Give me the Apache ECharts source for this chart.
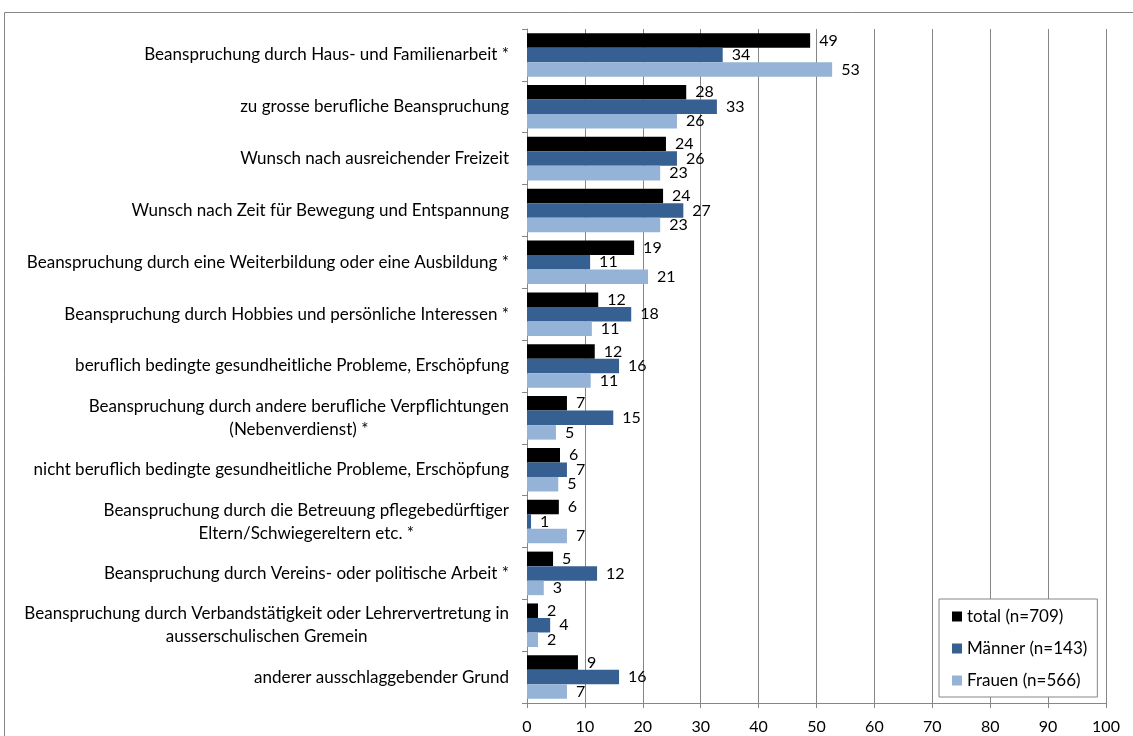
<!DOCTYPE html>
<html>
<head>
<meta charset="utf-8">
<script src="https://cdn.jsdelivr.net/npm/echarts@6/dist/echarts.min.js"></script>
<style>
  html, body { margin: 0; padding: 0; background: #fff; }
  #chart { width: 1133px; height: 736px; }
</style>
</head>
<body>
<div id="chart"></div>
<script>
// Kategorien (von oben nach unten)
const categories = [
  'Beanspruchung durch Haus- und Familienarbeit *',
  'zu grosse berufliche Beanspruchung',
  'Wunsch nach ausreichender Freizeit',
  'Wunsch nach Zeit für Bewegung und Entspannung',
  'Beanspruchung durch eine Weiterbildung oder eine Ausbildung *',
  'Beanspruchung durch Hobbies und persönliche Interessen *',
  'beruflich bedingte gesundheitliche Probleme, Erschöpfung',
  'Beanspruchung durch andere berufliche Verpflichtungen\n(Nebenverdienst) *',
  'nicht beruflich bedingte gesundheitliche Probleme, Erschöpfung',
  'Beanspruchung durch die Betreuung pflegebedürftiger\nEltern/Schwiegereltern etc. *',
  'Beanspruchung durch Vereins- oder politische Arbeit *',
  'Beanspruchung durch Verbandstätigkeit oder Lehrervertretung in\nausserschulischen Gremein',
  'anderer ausschlaggebender Grund'
];

const totalValues  = [48.9, 27.5, 24.0, 23.5, 18.5, 12.3, 11.7, 6.9, 5.7, 5.5, 4.5, 1.9, 8.8];
const maennerValues = [33.8, 32.8, 25.9, 27.0, 10.9, 18.0, 15.9, 14.9, 6.9, 0.7, 12.1, 4.0, 15.9];
const frauenValues = [52.7, 25.9, 23.0, 23.0, 20.9, 11.2, 11.0, 5.0, 5.4, 6.9, 2.9, 1.9, 6.9];

const seriesNames = ['total (n=709)', 'Männer (n=143)', 'Frauen (n=566)'];
const seriesColors = ['#000000', '#376092', '#95B3D7'];

const FONT = 'Lato';

let myChart = echarts.init(document.getElementById('chart'));

const makeSeries = (name, data, color) => ({
  name: name,
  type: 'bar',
  data: data,
  barGap: '0%',
  barCategoryGap: '16%',
  itemStyle: { color: color },
  label: {
    show: true,
    position: 'right',
    distance: 9,
    color: '#000',
    fontFamily: FONT,
    fontSize: 16,
    formatter: (p) => Math.round(p.value)
  },
  animation: false
});

let option = {
  backgroundColor: '#fff',
  animation: false,
  graphic: [{
    type: 'rect',
    shape: { x: 4.5, y: 12.5, width: 1200, height: 800 },
    style: { fill: 'none', stroke: '#868686', lineWidth: 1 },
    silent: true
  }],
  grid: {
    left: 527,
    right: 27,
    top: 29,
    bottom: 33
  },
  legend: {
    orient: 'vertical',
    left: 939,
    top: 599,
    padding: [9, 10, 8, 13],
    itemWidth: 10,
    itemHeight: 10,
    itemGap: 15,
    borderColor: '#868686',
    borderWidth: 1,
    backgroundColor: '#fff',
    icon: 'rect',
    textStyle: { fontFamily: FONT, fontSize: 17, color: '#000' },
    data: seriesNames
  },
  xAxis: {
    type: 'value',
    min: 0,
    max: 100,
    interval: 10,
    axisLine: { show: true, lineStyle: { color: '#868686' } },
    axisTick: { show: true, length: 5, lineStyle: { color: '#868686' } },
    splitLine: { show: true, lineStyle: { color: '#868686', width: 1 } },
    axisLabel: { color: '#000', fontFamily: FONT, fontSize: 16, margin: 16 }
  },
  yAxis: {
    type: 'category',
    inverse: true,
    data: categories,
    axisLine: { show: true, lineStyle: { color: '#868686' } },
    axisTick: { show: true, length: 5, alignWithLabel: false, lineStyle: { color: '#868686' } },
    splitLine: { show: false },
    axisLabel: {
      color: '#000',
      fontFamily: FONT,
      fontSize: 17,
      margin: 18,
      lineHeight: 23,
      interval: 0,
      formatter: (v) => '{c|' + v.split('\n').join('}\n{c|') + '}',
      rich: {
        c: { align: 'center', fontFamily: FONT, fontSize: 17, color: '#000', lineHeight: 23 }
      }
    }
  },
  series: [
    makeSeries(seriesNames[0], totalValues, seriesColors[0]),
    makeSeries(seriesNames[1], maennerValues, seriesColors[1]),
    makeSeries(seriesNames[2], frauenValues, seriesColors[2])
  ]
};

myChart.setOption(option);
</script>
</body>
</html>
